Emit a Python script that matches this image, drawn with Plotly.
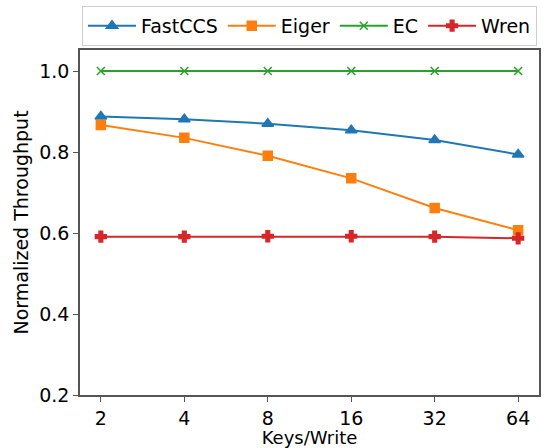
import plotly.graph_objects as go

keys_per_write = ["2", "4", "8", "16", "32", "64"]
fastccs = [0.888, 0.881, 0.870, 0.854, 0.830, 0.794]
eiger = [0.867, 0.835, 0.791, 0.735, 0.662, 0.607]
ec = [1.0, 1.0, 1.0, 1.0, 1.0, 1.0]
wren = [0.591, 0.591, 0.592, 0.592, 0.591, 0.587]

series = [
    ("FastCCS", fastccs, "#1f77b4", "triangle-up", 10),
    ("Eiger", eiger, "#ff7f0e", "square", 9),
    ("EC", ec, "#2ca02c", "x-thin-open", 8),
    ("Wren", wren, "#d62728", "cross", 9),
]

fig = go.Figure()
for name, vals, color, sym, size in series:
    fig.add_trace(go.Scatter(
        x=keys_per_write, y=vals, name=name, mode="lines+markers",
        line=dict(color=color, width=2),
        marker=dict(symbol=sym, size=size, color=color,
                    line=dict(color=color, width=1.5)),
    ))

axis_common = dict(
    showline=True, mirror=True, linecolor="#555555", linewidth=1.5,
    ticks="outside", ticklen=5, tickcolor="#555555", tickwidth=1.2,
    showgrid=False, zeroline=False,
    tickfont=dict(size=19, color="black"),
)

fig.update_layout(
    width=544, height=448,
    margin=dict(l=80, r=3, t=50, b=53),
    paper_bgcolor="white", plot_bgcolor="white",
    font=dict(family="DejaVu Sans", size=19, color="black"),
    xaxis=dict(type="category", range=[-0.25, 5.25],
               title=dict(text="Keys/Write", font=dict(size=18), standoff=4),
               **axis_common),
    yaxis=dict(range=[0.2, 1.052], tickvals=[0.2, 0.4, 0.6, 0.8, 1.0],
               tickformat=".1f",
               title=dict(text="Normalized Throughput", font=dict(size=19), standoff=6),
               **axis_common),
    legend=dict(orientation="h", x=0.5, xanchor="center", y=1.012, yanchor="bottom",
                bordercolor="#cccccc", borderwidth=1, font=dict(size=19),
                itemwidth=48, traceorder="normal"),
)

fig.write_html("out.html")
